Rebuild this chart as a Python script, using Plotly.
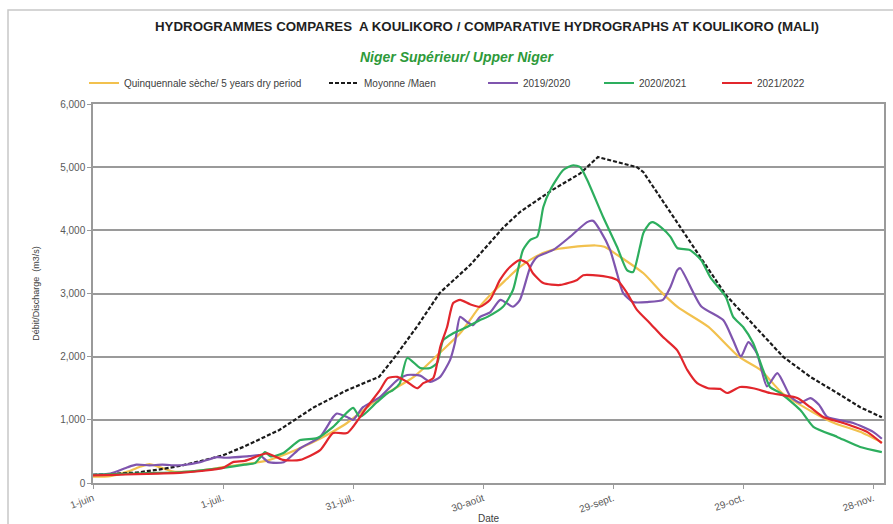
import pandas as pd
import plotly.graph_objects as go

BASE = "2021-06-01"

# ---- data (day offset from 1 June, discharge m3/s) ----
dry_days = [0, 4, 8, 11, 13, 15, 18, 20, 25, 30, 35, 40, 45, 50, 55, 58.6, 66, 74, 80, 84.7, 89.3, 92, 95, 98.5,
            102, 106, 110, 116, 118, 121, 127, 131, 135, 142, 149, 154, 159, 166, 171, 177, 182]
dry_vals = [100, 110, 180, 260, 300, 260, 190, 175, 200, 250, 300, 350, 470, 620, 800, 950, 1345, 1680, 2060, 2370,
            2800, 3000, 3200, 3420, 3580, 3690, 3730, 3760, 3740, 3610, 3320, 3030, 2780, 2470, 2000, 1790, 1425,
            1125, 950, 810, 640]

mean_days = [0, 5, 10, 15, 20, 25, 30, 35, 40, 43, 51, 55.4, 58.6, 66, 69.7, 75, 80, 87, 90, 94.6, 98.5, 106,
             112.4, 116.5, 125.5, 127, 135.5, 139, 146, 159.2, 165.5, 171.7, 177, 182]
mean_vals = [130, 145, 165, 210, 270, 350, 440, 580, 740, 840, 1200, 1350, 1470, 1680, 2000, 2500, 3010, 3450,
             3690, 4040, 4290, 4640, 4900, 5160, 5000, 4920, 4050, 3690, 2976, 2000, 1680, 1425, 1200, 1040]

y1920_days = [0, 4, 8, 10, 13, 16, 19, 21, 24.7, 28.6, 30.5, 36, 38.5, 40.5, 44, 47.8, 52.4, 55.4, 56.3, 58.6, 60,
              62.3, 66.2, 70.2, 72.5, 75.5, 77.8, 80.1, 82.4, 83.5, 84.7, 86.3, 87.7, 89.3, 91.6, 94, 96.9, 98.5,
              100.9, 102.5, 106.2, 110.1, 114, 115.4, 117, 119.3, 120.9, 122.3, 124.6, 127.9, 131.5, 133.2, 134.8,
              135.5, 140.3, 145.4, 147.7, 149.5, 151.2, 153.2, 155.5, 157.9, 161, 163.2, 165.5, 167.5, 169.4,
              175.4, 180, 182]
y1920_vals = [130, 150, 250, 290, 280, 290, 280, 285, 330, 410, 400, 425, 440, 330, 330, 550, 730, 1045, 1100, 1045,
              1000, 1200, 1360, 1630, 1710, 1700, 1600, 1680, 1950, 2215, 2630, 2550, 2500, 2630, 2700, 2900, 2790,
              2900, 3420, 3580, 3690, 3900, 4130, 4150, 4000, 3690, 3320, 3010, 2865, 2865, 2900, 3100, 3370, 3400,
              2800, 2580, 2260, 2000, 2230, 2050, 1530, 1740, 1360, 1270, 1345, 1240, 1045, 950, 810, 700]

y2021_days = [0, 5, 10, 15, 20, 25, 30, 35, 37.4, 38.5, 39.7, 41, 43.8, 47.8, 51.7, 55.4, 60, 61.6, 65.5, 68,
              69.2, 70.8, 72.5, 75.5, 77.8, 79.4, 80.8, 83.1, 86.3, 89.3, 91, 94.6, 96.9, 99.2, 100.9, 102.5, 103.9,
              105.5, 108.5, 110.8, 112.4, 114, 117.7, 120.9, 123.2, 124.6, 126.2, 127, 128.5, 129.2, 131, 133.2,
              134.8, 137.7, 140.3, 142.4, 146, 147.7, 150, 152.3, 154.6, 156.2, 158.6, 163.2, 166.2, 171.7, 177, 182]
y2021_vals = [130, 140, 150, 160, 170, 200, 240, 290, 315, 400, 490, 420, 470, 680, 710, 890, 1190, 1045, 1280,
              1425, 1470, 1580, 1980, 1820, 1820, 1900, 2260, 2370, 2470, 2580, 2630, 2790, 3055, 3690, 3850, 3900,
              4370, 4640, 4955, 5030, 5000, 4800, 4210, 3740, 3370, 3340, 3740, 3960, 4115, 4130, 4050, 3900, 3720,
              3690, 3530, 3260, 2945, 2630, 2470, 2215, 1790, 1520, 1425, 1155, 890, 730, 570, 490]

y2122_days = [0, 5, 10, 15, 20, 25, 30, 32.3, 35, 38.5, 40.2, 43.8, 47.8, 52.4, 55.4, 58.6, 60, 63.2, 66.2, 68,
              70.2, 72.5, 74.8, 76.2, 78.5, 80.1, 81.7, 83.1, 84.7, 87, 89.3, 91.6, 93.9, 96.2, 98.5, 100.2, 101.5,
              103.9, 107.8, 111.7, 113.1, 117.7, 120.9, 123.2, 125.5, 128.5, 131.5, 134.8, 137.1, 139.4, 141.9,
              144.7, 146.3, 149.3, 152.3, 156.2, 159.2, 162.5, 165.5, 168.5, 173.1, 178.6, 182]
y2122_vals = [120, 130, 140, 150, 160, 190, 240, 330, 350, 440, 470, 365, 365, 520, 790, 790, 890, 1200, 1470, 1660,
              1680, 1600, 1500, 1580, 1660, 2150, 2470, 2850, 2900, 2830, 2790, 2900, 3215, 3420, 3530, 3480, 3320,
              3165, 3135, 3215, 3290, 3275, 3215, 3010, 2740, 2530, 2310, 2100, 1790, 1580, 1500, 1490, 1425, 1520,
              1500, 1425, 1390, 1345, 1200, 1045, 950, 810, 630]

tick_days = [0, 30, 60, 90, 120, 150, 180]
tick_labels = ["1-juin", "1-juil.", "31-juil.", "30-août", "29-sept.", "29-oct.", "28-nov."]

series_names = ["Quinquennale sèche/ 5 years dry period", "Moyonne /Maen", "2019/2020", "2020/2021", "2021/2022"]


def to_dates(days):
    return pd.to_datetime(BASE) + pd.to_timedelta(days, unit="D")


FONT = "Liberation Sans, Arial"

fig = go.Figure()
specs = [
    (dry_days, dry_vals, "#F2C14E", "solid", "legend"),
    (mean_days, mean_vals, "#1a1a1a", "4px,2px", "legend2"),
    (y1920_days, y1920_vals, "#7F55AE", "solid", "legend3"),
    (y2021_days, y2021_vals, "#2DAE5E", "solid", "legend4"),
    (y2122_days, y2122_vals, "#E2262C", "solid", "legend5"),
]
for (d, v, c, dash, lg), name in zip(specs, series_names):
    fig.add_trace(go.Scatter(
        x=to_dates(d), y=v, mode="lines", name=name, legend=lg, showlegend=True,
        line=dict(color=c, width=2.2, dash=dash, shape="linear" if dash != "solid" else "spline", smoothing=0.6),
    ))

lg_font = dict(family=FONT, size=10, color="#404040")
leg_x = [84, 324, 483, 599, 717]
common = dict(orientation="h", y=1 - 83 / 524, yref="container", yanchor="middle", xref="container",
              xanchor="left", font=lg_font, bgcolor="rgba(0,0,0,0)", itemwidth=30, tracegroupgap=0)
fig.update_layout(
    showlegend=True,
    legend=dict(x=leg_x[0] / 893, **common),
    legend2=dict(x=leg_x[1] / 893, **common),
    legend3=dict(x=leg_x[2] / 893, **common),
    legend4=dict(x=leg_x[3] / 893, **common),
    legend5=dict(x=leg_x[4] / 893, **common),
)

grid_col = "#9A9A9A"
fig.update_layout(
    width=893, height=524,
    margin=dict(l=93, r=9, t=104, b=41, autoexpand=False),
    paper_bgcolor="white", plot_bgcolor="white",
    font=dict(family=FONT, color="#595959"),
    xaxis=dict(
        range=[to_dates([0])[0], to_dates([182.5])[0]],
        tickvals=to_dates(tick_days), ticktext=tick_labels, tickangle=-20,
        tickfont=dict(size=10, color="#595959"), automargin=False,
        showgrid=False, showline=True, linecolor=grid_col, linewidth=1.5, mirror=True,
        ticks="outside", ticklen=4, tickcolor=grid_col,
        title=dict(text="Date", font=dict(size=10, color="#404040"), standoff=1),
    ),
    yaxis=dict(
        range=[0, 6000], dtick=1000, tickformat=",", automargin=False,
        tickfont=dict(size=10, color="#595959"),
        showgrid=True, gridcolor=grid_col, gridwidth=1.8,
        showline=True, linecolor=grid_col, linewidth=1.5, mirror=True,
        ticks="outside", ticklen=4, tickcolor=grid_col, zeroline=False,
        title=dict(text="Débit/Discharge  (m3/s)", font=dict(size=9, color="#404040"), standoff=19),
    ),
)

fig.add_annotation(text="<b>HYDROGRAMMES COMPARES  A KOULIKORO / COMPARATIVE HYDROGRAPHS AT KOULIKORO (MALI)</b>",
                   xref="paper", yref="paper", x=(487 - 93) / 791, y=1 + (104 - 27) / 379, showarrow=False,
                   yanchor="middle", font=dict(family=FONT, size=13.3, color="#1f1f1f"))
fig.add_annotation(text="<b><i>Niger Supérieur/ Upper Niger</i></b>",
                   xref="paper", yref="paper", x=(457 - 93) / 791, y=1 + (104 - 57) / 379, showarrow=False,
                   yanchor="middle", font=dict(family=FONT, size=14, color="#2E9A3A"))

fig.add_shape(type="rect", xref="paper", yref="paper",
              x0=(8 - 93) / 791, x1=(900 - 93) / 791, y0=-0.3, y1=1 + (104 - 10) / 379,
              line=dict(color="#C8C8C8", width=1.5), fillcolor="rgba(0,0,0,0)", layer="below")

fig.write_html("out.html", config={"displayModeBar": False},
               post_script="document.body.style.margin='0';document.body.style.overflow='hidden';")
